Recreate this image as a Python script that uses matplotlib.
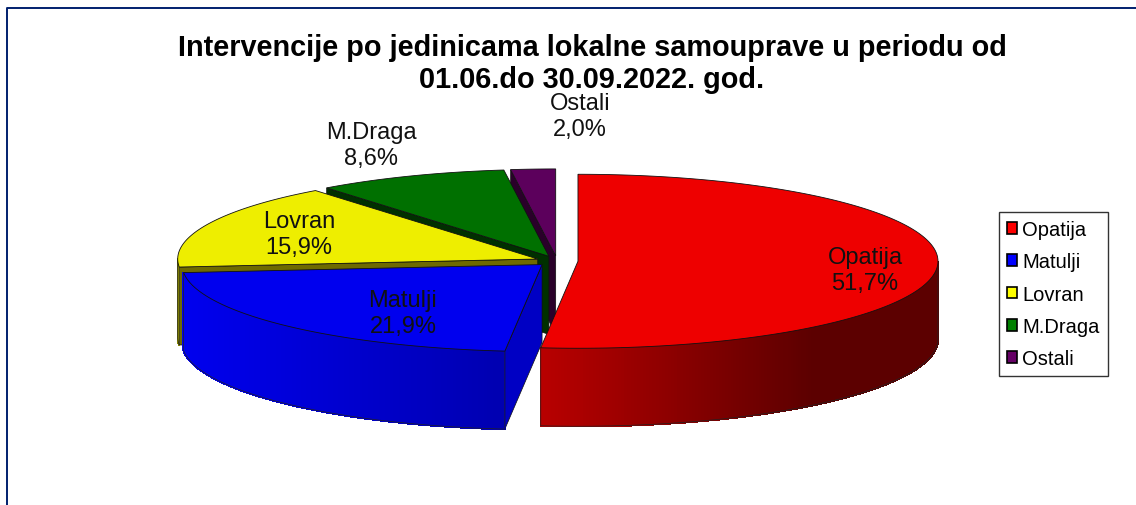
import numpy as np
import matplotlib
matplotlib.use('Agg')
import matplotlib.pyplot as plt
from matplotlib.patches import Polygon, Patch
from matplotlib.colors import to_rgb

plt.rcParams['font.family'] = ['Liberation Sans', 'DejaVu Sans']

# data
categories = ['Opatija', 'Matulji', 'Lovran', 'M.Draga', 'Ostali']
shares = [51.7, 21.9, 15.9, 8.6, 2.0]

# colours
legend_colors = ['#ff0000', '#0000ff', '#ffff00', '#008000', '#660066']
top_colors = ['#ee0000', '#0000ee', '#eeee00', '#007000', '#5c005c']
cut_colors = ['#600000', '#0000c4', '#6e6a00', '#003000', '#2a002a']
wall_left = ['#b80000', '#0000ee', '#8a8a00', '#004000', '#300030']
wall_right = ['#5c0000', '#0000b0', '#8a8a00', '#004000', '#300030']

# pie geometry, in pixels of the picture
W, H = 1136, 506
cx, cy = 557, 262
rx, ry = 360, 87
depth = 78
explode = 21

label_pos = [(865, 271), (403, 314), (299, 235), (371, 146), (580, 117)]

fig = plt.figure(figsize=(W/100, H/100), dpi=100)
ax = fig.add_axes([0, 0, 1, 1])
ax.set_xlim(0, W)
ax.set_ylim(H, 0)
ax.axis('off')

# frame of the slide
ax.plot([6.5, 6.5, W], [H, 8.5, 8.5], color='#001f6e', lw=1.4, solid_capstyle='butt')


def arc_points(x0, y0, a0, a1):
    """points of the ellipse, angles in degrees clockwise from the top"""
    n = max(int(abs(a1 - a0) * 2), 2)
    a = np.radians(np.linspace(a0, a1, n))
    return x0 + rx * np.sin(a), y0 - ry * np.cos(a)


def mix(c1, c2, t):
    c1, c2 = np.array(to_rgb(c1)), np.array(to_rgb(c2))
    return tuple(c1 + (c2 - c1) * t)


def draw_slice(i, a0, a1):
    mid = np.radians((a0 + a1) / 2)
    x0 = cx + explode * np.sin(mid)
    y0 = cy - explode * ry / rx * np.cos(mid)

    # cut face at the start of the slice
    sx = x0 + rx * np.sin(np.radians(a0))
    sy = y0 - ry * np.cos(np.radians(a0))
    ax.add_patch(Polygon([(x0, y0), (sx, sy), (sx, sy + depth), (x0, y0 + depth)],
                         fc=cut_colors[i], ec='#111111', lw=0.5, zorder=10 - i))

    # outer wall, only the part that faces us
    w0, w1 = max(a0, 90), min(a1, 270)
    if w1 > w0:
        xs, ys = arc_points(x0, y0, w0, w1)
        x_lo, x_hi = xs.min(), xs.max()
        for k in range(len(xs) - 1):
            t = (0.5 * (xs[k] + xs[k + 1]) - x_lo) / (x_hi - x_lo)
            # the red wall is already at its darkest about two thirds along
            t = min(t / 0.68, 1) if i == 0 else t
            col = mix(wall_left[i], wall_right[i], t)
            # no antialiasing here, it leaves stripes between the pieces
            ax.add_patch(Polygon([(xs[k], ys[k]), (xs[k + 1], ys[k + 1]),
                                  (xs[k + 1], ys[k + 1] + depth), (xs[k], ys[k] + depth)],
                                 fc=col, ec=col, lw=1.0, antialiased=False, zorder=10 - i))
        ax.plot(np.r_[xs[0], xs, xs[-1]], np.r_[ys[0], ys + depth, ys[-1]],
                color='#222222', lw=0.5, zorder=10 - i)

    # top face
    xs, ys = arc_points(x0, y0, a0, a1)
    ax.add_patch(Polygon(np.c_[np.r_[x0, xs], np.r_[y0, ys]], closed=True,
                         fc=top_colors[i], ec='#111111', lw=0.6, zorder=10 - i))


# slices go clockwise from 12 o'clock; the back ones have to be drawn first
edges = np.r_[0, np.cumsum(shares)] / sum(shares) * 360
for i in range(len(shares)):
    draw_slice(i, edges[i], edges[i + 1])

# labels
for name, val, (lx, ly) in zip(categories, shares, label_pos):
    ax.text(lx, ly, '%s\n%s%%' % (name, ('%.1f' % val).replace('.', ',')),
            ha='center', va='center', fontsize=17, color='#111111',
            linespacing=1.24, zorder=20)

ax.text(592, 64, 'Intervencije po jedinicama lokalne samouprave u periodu od\n01.06.do 30.09.2022. god.',
        ha='center', va='center', fontsize=20.8, fontweight='bold', color='black',
        linespacing=1.18, zorder=20)

handles = [Patch(fc=c, ec='black', lw=1.2) for c in legend_colors]
leg = ax.legend(handles, categories, loc='upper left', bbox_to_anchor=(999, 213),
                bbox_transform=ax.transData, fontsize=14.5, frameon=True, fancybox=False,
                edgecolor='#333333', framealpha=1, borderpad=0.4, labelspacing=0.66,
                handlelength=0.5, handleheight=0.5, handletextpad=0.25, borderaxespad=0)
leg.get_frame().set_linewidth(1.0)
leg.set_zorder(30)

plt.savefig('out.png', dpi=100)
